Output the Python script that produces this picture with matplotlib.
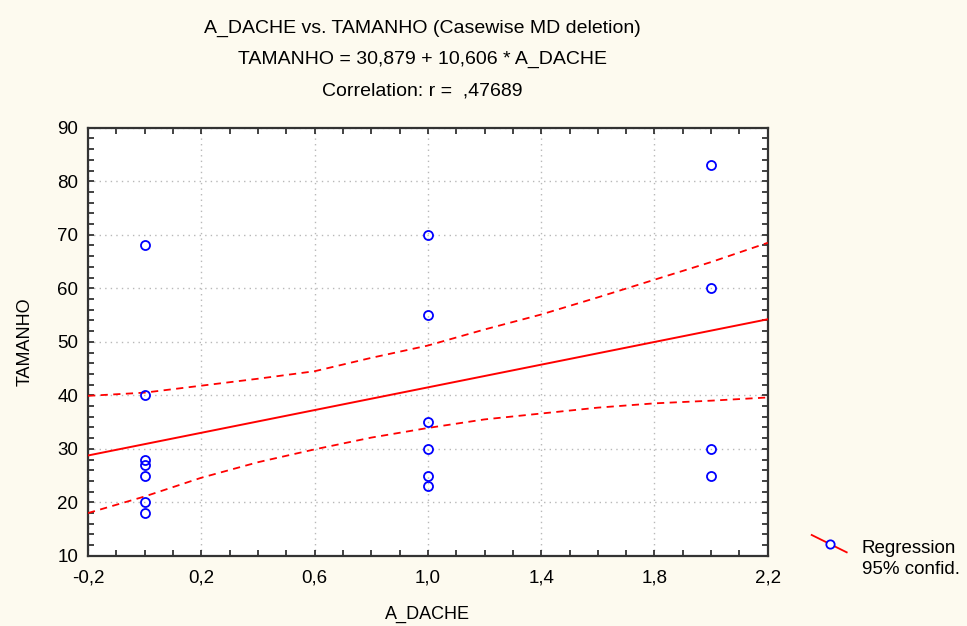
import numpy as np
import matplotlib.pyplot as plt
from matplotlib.ticker import MultipleLocator, FuncFormatter
from matplotlib.lines import Line2D

# scatter data (A_DACHE vs TAMANHO)
a_dache = [0, 0, 0, 0, 0, 0, 0,
           1, 1, 1, 1, 1, 1,
           2, 2, 2, 2]
tamanho = [68, 40, 28, 27, 25, 20, 18,
           70, 55, 35, 30, 25, 23,
           83, 60, 30, 25]

# regression coefficients (from the title)
intercept = 30.879
slope = 10.606

# 95% confidence band
band_x = [-0.2, 0.0, 0.2, 0.4, 0.6, 0.8, 1.0, 1.2, 1.4, 1.6, 1.8, 2.0, 2.2]
band_upper = [39.9, 40.5, 41.8, 43.1, 44.5, 47.0, 49.3, 52.3, 55.1, 58.3, 61.6, 64.9, 68.5]
band_lower = [18.0, 21.1, 24.6, 27.5, 29.9, 32.1, 33.9, 35.5, 36.6, 37.7, 38.5, 39.0, 39.6]

bg = '#fdfaef'
plt.rcParams['font.family'] = ['Liberation Sans', 'DejaVu Sans']

fig = plt.figure(figsize=(9.67, 6.26), dpi=100, facecolor=bg)
ax = fig.add_axes([0.091, 0.112, 0.703, 0.684])
ax.set_facecolor('white')

# regression line and confidence band
xs = np.array([-0.2, 2.2])
ax.plot(xs, intercept + slope * xs, color='red', lw=1.4, zorder=3)
ax.plot(band_x, band_upper, color='red', lw=1.3, ls=(0, (4, 3)), zorder=3)
ax.plot(band_x, band_lower, color='red', lw=1.3, ls=(0, (4, 3)), zorder=3)

ax.plot(a_dache, tamanho, 'o', ms=6.5, mfc='none', mec='blue', mew=1.3, zorder=4)

ax.set_xlim(-0.2, 2.2)
ax.set_ylim(10, 90)
ax.xaxis.set_minor_locator(MultipleLocator(0.1))
ax.yaxis.set_major_locator(MultipleLocator(10))
ax.yaxis.set_minor_locator(MultipleLocator(2))
ax.set_xticks([-0.2, 0.2, 0.6, 1.0, 1.4, 1.8, 2.2])
ax.xaxis.set_major_formatter(FuncFormatter(lambda v, p: f'{v:.1f}'.replace('.', ',')))
ax.tick_params(which='both', direction='in', top=True, right=True, length=4,
               width=1.2, color='#222222', labelsize=13.5)
ax.tick_params(axis='x', pad=10)
ax.tick_params(axis='y', pad=7)
ax.grid(True, which='major', color='#b8b8b8', ls=(0, (1, 3)), lw=1)

for s in ax.spines.values():
    s.set_color('#333333')
    s.set_linewidth(1.6)

ax.set_xlabel('A_DACHE', fontsize=13, labelpad=14)
ax.set_ylabel('TAMANHO', fontsize=13, labelpad=17)

fig.text(0.437, 0.955, 'A_DACHE vs. TAMANHO (Casewise MD deletion)', ha='center', va='center', fontsize=14)
fig.text(0.437, 0.905, 'TAMANHO = 30,879 + 10,606 * A_DACHE', ha='center', va='center', fontsize=14)
fig.text(0.437, 0.855, 'Correlation: r =  ,47689', ha='center', va='center', fontsize=14)

# legend drawn as a small sloped sample, like the original
fig.add_artist(Line2D([0.8394, 0.8756], [0.1454, 0.1177], color='red', lw=1.3,
                      transform=fig.transFigure))
fig.add_artist(Line2D([0.8583], [0.131], marker='o', ms=6, mfc='white', mec='blue', mew=1.3,
                      transform=fig.transFigure))
fig.text(0.891, 0.1246, 'Regression', ha='left', va='center', fontsize=13.5)
fig.text(0.891, 0.0895, '95% confid.', ha='left', va='center', fontsize=13.5)

fig.savefig('out.png', dpi=100, facecolor=bg)
